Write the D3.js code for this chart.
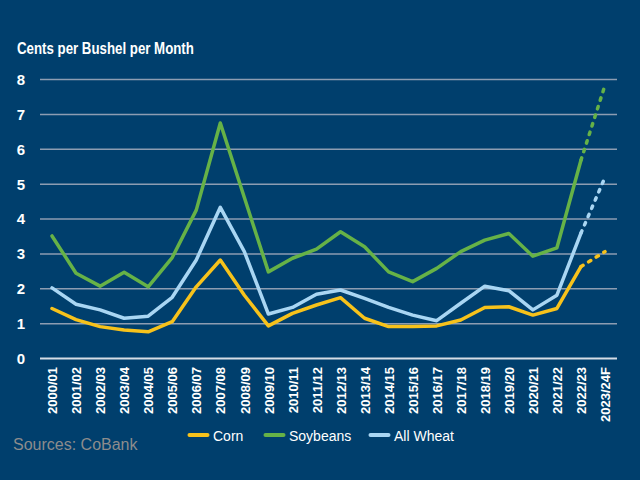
<!DOCTYPE html>
<html><head><meta charset="utf-8">
<script src="https://cdn.jsdelivr.net/npm/d3@7"></script>
<style>
html,body{margin:0;padding:0;background:#003f6d;}
svg{display:block;font-family:"Liberation Sans",Arial,sans-serif;}
</style></head>
<body><svg id="chart" width="640" height="480"></svg>
<script>
const categories = ["2000/01","2001/02","2002/03","2003/04","2004/05","2005/06","2006/07","2007/08","2008/09","2009/10","2010/11","2011/12","2012/13","2013/14","2014/15","2015/16","2016/17","2017/18","2018/19","2019/20","2020/21","2021/22","2022/23","2023/24F"];
const corn = [1.42,1.10,0.90,0.80,0.75,1.04,2.04,2.81,1.80,0.92,1.28,1.52,1.73,1.14,0.90,0.90,0.92,1.09,1.45,1.47,1.23,1.42,2.62,3.05];
const soybeans = [3.50,2.43,2.06,2.46,2.04,2.88,4.24,6.74,4.60,2.47,2.86,3.12,3.62,3.19,2.47,2.19,2.57,3.05,3.38,3.57,2.92,3.16,5.67,7.82];
const wheat = [2.01,1.54,1.38,1.14,1.20,1.74,2.81,4.32,3.05,1.26,1.45,1.83,1.95,1.71,1.45,1.23,1.07,1.57,2.06,1.93,1.38,1.80,3.58,5.18];
const yTicks = [0,1,2,3,4,5,6,7,8];
const seriesNames = ["Corn","Soybeans","All Wheat"];
const seriesColors = ["#f7c21b","#66b247","#a9d6f3"];
const forecastFrom = "2022/23";

const svg = d3.select("#chart");
svg.append("rect").attr("width",640).attr("height",480).attr("fill","#003f6d");

const x = d3.scalePoint().domain(categories).range([52,605]);
const y = d3.scaleLinear().domain([0,8]).range([358,79]);
const gridLeft = 40, gridRight = 617;

// y axis + grid
const yAxis = svg.append("g").attr("transform",`translate(${gridLeft},0)`)
  .call(d3.axisLeft(y).tickValues(yTicks).tickSize(-(gridRight-gridLeft)).tickFormat(d3.format("d")));
yAxis.select(".domain").remove();
yAxis.selectAll(".tick line").attr("stroke",d=>d===0?"#d5dde6":"#8d9db2").attr("stroke-width",d=>d===0?2:1.5);
yAxis.selectAll(".tick text").attr("x",-19).attr("text-anchor","middle").attr("dy","0.36em")
  .attr("fill","#ffffff").attr("font-size",15).attr("font-weight","bold");

// x axis labels
const xAxis = svg.append("g").attr("transform","translate(0,367)")
  .call(d3.axisBottom(x).tickSize(0));
xAxis.select(".domain").remove();
xAxis.selectAll(".tick text").attr("transform","rotate(-90)").attr("text-anchor","end")
  .attr("x",0).attr("y",0).attr("dy","0.36em")
  .attr("fill","#ffffff").attr("font-size",13).attr("font-weight","bold");

// title
svg.append("text").attr("transform","translate(17,54) scale(0.83,1)").attr("fill","#ffffff")
  .attr("font-size",16).attr("font-weight","bold").text("Cents per Bushel per Month");

// lines
const allSeries = [corn,soybeans,wheat];
const fIdx = categories.indexOf(forecastFrom);
const line = d3.line().x(d=>x(d.c)).y(d=>y(d.v));
[1,2,0].forEach(i=>{
  const pts = allSeries[i].map((v,j)=>({c:categories[j],v}));
  svg.append("path").datum(pts.slice(0,fIdx+1)).attr("d",line)
    .attr("fill","none").attr("stroke",seriesColors[i]).attr("stroke-width",3.5)
    .attr("stroke-linejoin","round").attr("stroke-linecap","round");
  svg.append("path").datum(pts.slice(fIdx)).attr("d",line)
    .attr("fill","none").attr("stroke",seriesColors[i]).attr("stroke-width",3.5)
    .attr("stroke-linecap","round").attr("stroke-dasharray","2.5,6.5");
});

// legend
const legendX = [188,264,369];
seriesNames.forEach((n,i)=>{
  svg.append("line").attr("x1",legendX[i]+1.5).attr("x2",legendX[i]+19.5).attr("y1",435).attr("y2",435)
    .attr("stroke",seriesColors[i]).attr("stroke-width",4).attr("stroke-linecap","round");
  svg.append("text").attr("x",legendX[i]+25).attr("y",441).attr("fill","#ffffff")
    .attr("font-size",14).text(n);
});

// source
svg.append("text").attr("x",13).attr("y",450).attr("fill","#8c8c8c").attr("font-size",16).text("Sources: CoBank");
</script></body></html>
